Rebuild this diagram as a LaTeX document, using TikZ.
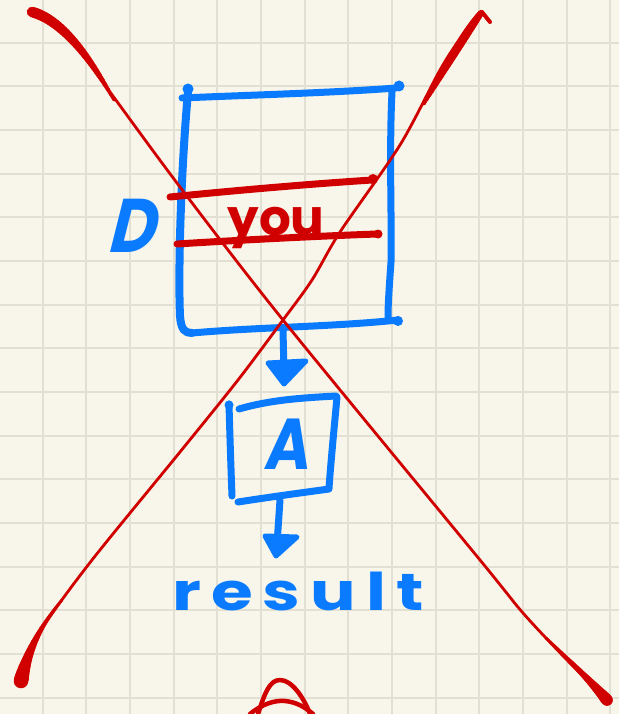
\documentclass[tikz,border=0pt]{standalone}
\usepackage{fontspec}
\usetikzlibrary{calc}
\newfontfamily\hand{Poppins}
\newfontfamily\handwide[LetterSpace=15]{Poppins}
\definecolor{paper}{HTML}{F8F6EA}
\definecolor{gridc}{HTML}{E2E0D2}
\definecolor{ink}{HTML}{0A7BFF}
\definecolor{pen}{HTML}{D10000}
\tikzset{
  gridline/.style={draw=gridc, line width=2pt},
  bw/.style={draw=ink, line width=#1pt, line cap=round, line join=round},
  pw/.style={draw=pen, line width=#1pt, line cap=round, line join=round},
  inkdot/.style={fill=ink},
  pendot/.style={fill=pen},
  handtext/.style={inner sep=0pt, anchor=base},
}
% tapered pen stroke along a quadratic curve:
% start (#1,#2), control (#3,#4), end (#5,#6); widths at start, middle, end (#7,#8,#9)
\newcommand\taperline[9]{%
  \foreach \k in {0,...,29}{%
    \pgfmathsetmacro\tpA{\k/30}%
    \pgfmathsetmacro\tpB{(\k+1)/30}%
    \pgfmathsetmacro\tpxa{(1-\tpA)^2*#1+2*(1-\tpA)*\tpA*#3+\tpA^2*#5}%
    \pgfmathsetmacro\tpya{(1-\tpA)^2*#2+2*(1-\tpA)*\tpA*#4+\tpA^2*#6}%
    \pgfmathsetmacro\tpxb{(1-\tpB)^2*#1+2*(1-\tpB)*\tpB*#3+\tpB^2*#5}%
    \pgfmathsetmacro\tpyb{(1-\tpB)^2*#2+2*(1-\tpB)*\tpB*#4+\tpB^2*#6}%
    \pgfmathsetmacro\tpM{(\tpA+\tpB)/2}%
    \pgfmathsetmacro\tpw{#7*(1-\tpM)*(1-2*\tpM)+4*#8*\tpM*(1-\tpM)+#9*\tpM*(2*\tpM-1)}%
    \draw[pw=\tpw] (\tpxa,\tpya) -- (\tpxb,\tpyb);
  }}
\begin{document}
\begin{tikzpicture}[x=1pt,y=-1pt]
% paper and grid
\fill[paper] (0,0) rectangle (619,714);
\useasboundingbox (0,0) rectangle (619,714);
\foreach \i in {0,...,14} \draw[gridline] ({43.67*\i-1},0) -- ({43.67*\i-1},714);
\foreach \i in {0,...,16} \draw[gridline] (0,{43.67*\i-1}) -- (619,{43.67*\i-1});

% big frame with the crossed-out entry
\draw[bw=7] (182,98) .. controls (250,95) and (330,93) .. (396,88);
\fill[inkdot] (188,89) circle (5.5);
\fill[inkdot] (399,86) circle (5.5);
\draw[bw=8] (188,92) .. controls (181,170) and (178,270) .. (180,316) .. controls (181,330) and (185,333) .. (192,333);
\draw[bw=7] (192,333) .. controls (260,327) and (330,327) .. (398,320);
\fill[inkdot] (398,321) circle (5);
\draw[bw=7] (392,92) .. controls (389,150) and (392,230) .. (391,262) .. controls (389,290) and (388,305) .. (388,318);

% label on the left
\node[handtext, text=ink, font=\hand\bfseries\fontsize{76}{76}\selectfont, xslant=0.25, xscale=0.85] (dlab) at (130,252) {D};

% struck-out word
\node[handtext, text=pen, font=\hand\bfseries\fontsize{50}{50}\selectfont] (you) at (276,235) {you};
\draw[pw=7] (170,197) .. controls (240,190) and (310,184) .. (372,180);
\fill[pendot] (373,179) circle (5);
\draw[pw=7] (177,244) .. controls (240,240) and (320,236) .. (377,234);
\fill[pendot] (378,234) circle (4.5);

% arrow into the second box
\coordinate (a1s) at (283,330);
\coordinate (a1e) at (284,384);
\draw[bw=7] (a1s) -- ($(a1e)+(0,-12)$);
\filldraw[ink, line width=5pt, line join=round] (a1e) -- ++(-16,-21) -- ++(38,-2) -- cycle;

% second box
\draw[bw=7] (229,404) .. controls (230,440) and (231,470) .. (232,496);
\fill[inkdot] (229,405) circle (4.5);
\draw[bw=7] (239,409) .. controls (270,400) and (300,398) .. (336,396);
\draw[bw=7] (337,397) .. controls (334,430) and (331,460) .. (329,488);
\draw[bw=7] (238,502) .. controls (270,497) and (300,493) .. (329,489);
\node[handtext, text=ink, font=\hand\bfseries\fontsize{72}{72}\selectfont, xslant=0.15, xscale=0.85] (alab) at (286,469) {A};

% arrow to the result
\coordinate (a2s) at (280,500);
\coordinate (a2e) at (276,556);
\draw[bw=7] (a2s) -- ($(a2e)+(1,-12)$);
\filldraw[ink, line width=5pt, line join=round] (a2e) -- ++(-11,-20) -- ++(32,1) -- cycle;

\node[handtext, text=ink, font=\handwide\bfseries\fontsize{52}{52}\selectfont, xscale=1.3] (res) at (298,610) {result};

% the big cross, thin body
\draw[pw=2.8] plot[smooth, tension=0.5] coordinates {(32,12) (60,28) (85,58) (110,92) (180,187) (283,320) (480,560) (523,613) (567,660) (607,700)};
\draw[pw=2.8] plot[smooth, tension=0.5] coordinates {(482,12) (462,36) (440,70) (400,145) (340,232) (312,280) (283,320) (238,380) (180,452) (92,560) (43,627) (25,665) (21,683)};
% tapered ends of the cross
\taperline{32}{12}{70}{22}{114}{100}{10.5}{8.5}{2.8}
\taperline{546}{638}{585}{675}{607}{700}{2.8}{5.5}{12}
\taperline{481}{13}{462}{38}{424}{104}{6}{8.5}{2.8}
\draw[pw=4] (482,12) -- (490,22);
\taperline{62}{600}{30}{638}{21}{681}{2.8}{6}{15}

% edge of a further sketch below
\draw[pw=4.5] (258,714) .. controls (265,692) and (270,680) .. (280,680) .. controls (292,680) and (304,698) .. (310,714);
\draw[pw=4.5] (250,714) .. controls (262,704) and (275,700) .. (285,701) .. controls (296,702) and (305,707) .. (313,714);
\end{tikzpicture}
\end{document}
